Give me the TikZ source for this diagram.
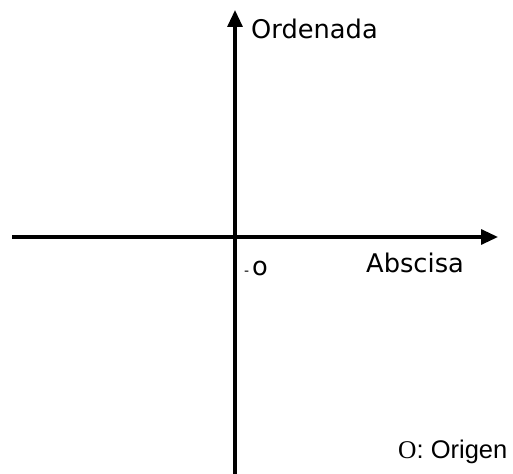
\documentclass[tikz,border=0pt]{standalone}
\usepackage{fontspec}
\setmainfont{DejaVu Sans}
\newfontfamily\arialf{Liberation Sans}
\newfontfamily\timesf{Liberation Serif}
\usetikzlibrary{arrows.meta}
\begin{document}
\begin{tikzpicture}[x=1pt,y=-1pt,
  axis/.style={line width=3.2pt,-{Triangle[length=17pt,width=15pt]}},
  lbl/.style={inner sep=0pt,anchor=base west,font=\fontsize{25.7}{29}\selectfont}]
\useasboundingbox (0,0) rectangle (513,473);
\coordinate (xl) at (12,237);
\coordinate (xr) at (498,237);
\coordinate (yb) at (235,475);
\coordinate (yt) at (235,10);
\draw[axis] (xl) -- (xr);
\draw[axis] (yb) -- (yt);
\node[lbl] (ord) at (251,39) {Ordenada};
\node[lbl] (abs) at (366,272) {Abscisa};
\node[lbl] (o) at (252,275) {o};
\node[inner sep=0pt,anchor=base west,font=\fontsize{14}{14}\selectfont] (dash) at (244,275) {-};
\node[inner sep=0pt,anchor=base west,font=\fontsize{25.5}{28}\selectfont] (org) at (398,458) {{\timesf O}{\arialf : Origen}};
\end{tikzpicture}
\end{document}
